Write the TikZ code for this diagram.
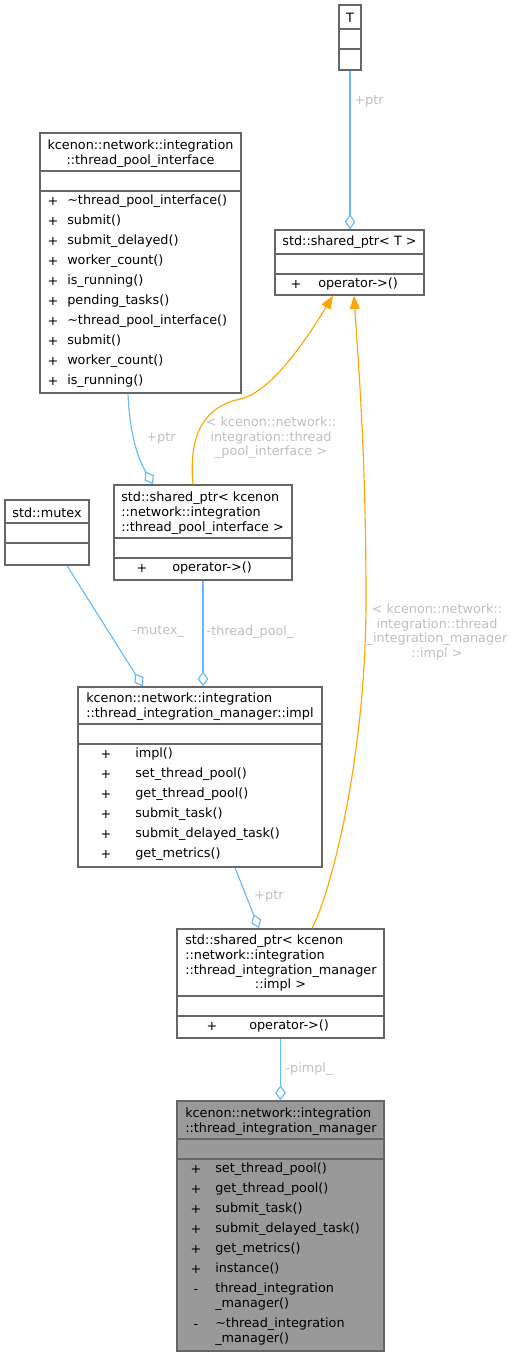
\documentclass[tikz,border=0pt]{standalone}
\usepackage{fontspec}
\setmainfont{DejaVu Sans}
\usetikzlibrary{arrows.meta,fit,calc}

\definecolor{useblue}{HTML}{63B8FF}
\definecolor{tmplorange}{HTML}{FFA500}
\definecolor{boxgray}{HTML}{666666}
\definecolor{labelgray}{HTML}{BFBFBF}
\definecolor{curfill}{HTML}{999999}

\begin{document}
\begin{tikzpicture}[x=0.75pt,y=-0.75pt,
        classbox/.style={draw=boxgray,line width=1pt,inner sep=0pt,fill=white},
        curbox/.style={classbox,fill=curfill},
        sepline/.style={draw=boxgray,line width=1pt},
        txt/.style={inner sep=0pt,font=\fontsize{9.6}{11.25}\selectfont},
        ttl/.style={txt,align=left,anchor=west},
        vis/.style={inner sep=0pt,align=center,font=\fontsize{9.6}{15}\selectfont},
        mth/.style={inner sep=0pt,align=left,anchor=west,font=\fontsize{9.6}{15}\selectfont},
        lbl/.style={inner sep=0pt,align=center,text=labelgray,font=\fontsize{9.6}{10.9}\selectfont},
        uses/.style={draw=useblue,line width=0.85pt,-{Diamond[open,length=11.25pt,width=8pt]}},
        tmpl/.style={draw=tmplorange,line width=0.85pt,-{Triangle[length=10pt,width=7.5pt]}}]
        \useasboundingbox (0,0) rectangle (515,1356);

        \node[classbox,fit={(339,5)(361,70)}] (T) {};
        \node[classbox,fit={(275,230)(424,295)}] (spT) {};
        \node[classbox,fit={(40,133)(241,393)}] (tpi) {};
        \node[classbox,fit={(5,500)(89,565)}] (mutex) {};
        \node[classbox,fit={(114,485)(292,580)}] (spTpi) {};
        \node[classbox,fit={(78,687)(322,867)}] (impl) {};
        \node[classbox,fit={(177,929)(384,1038)}] (spImpl) {};
        \node[curbox,fit={(177,1101)(384,1351)}] (mgr) {};

        \draw[sepline] (T.west |- 0,29) -- (T.east |- 0,29);
        \draw[sepline] (T.west |- 0,49) -- (T.east |- 0,49);
        \draw[sepline] (spT.west |- 0,254) -- (spT.east |- 0,254);
        \draw[sepline] (spT.west |- 0,274) -- (spT.east |- 0,274);
        \draw[sepline] (tpi.west |- 0,171) -- (tpi.east |- 0,171);
        \draw[sepline] (tpi.west |- 0,191) -- (tpi.east |- 0,191);
        \draw[sepline] (mutex.west |- 0,523) -- (mutex.east |- 0,523);
        \draw[sepline] (mutex.west |- 0,543) -- (mutex.east |- 0,543);
        \draw[sepline] (spTpi.west |- 0,538) -- (spTpi.east |- 0,538);
        \draw[sepline] (spTpi.west |- 0,558) -- (spTpi.east |- 0,558);
        \draw[sepline] (impl.west |- 0,724) -- (impl.east |- 0,724);
        \draw[sepline] (impl.west |- 0,744) -- (impl.east |- 0,744);
        \draw[sepline] (spImpl.west |- 0,996) -- (spImpl.east |- 0,996);
        \draw[sepline] (spImpl.west |- 0,1016) -- (spImpl.east |- 0,1016);
        \draw[sepline] (mgr.west |- 0,1139) -- (mgr.east |- 0,1139);
        \draw[sepline] (mgr.west |- 0,1159) -- (mgr.east |- 0,1159);

        \node[txt] (Tname) at (350,17.5) {T};

        \node[txt] (spTname) at (349.5,242.5) {std::shared\_ptr< T >};
        \node[vis] (spTvis) at (296,284) {+};
        \node[mth] (spTops) at (318,284) {operator->()};

        \node[txt,align=center] (tpiname) at (140.5,154) {kcenon::network::integration\\::thread\_pool\_interface};
        \node[vis] (tpivis) at (53,291.5) {+\\+\\+\\+\\+\\+\\+\\+\\+\\+};
        \node[mth] (tpiops) at (67,291.5) {\textasciitilde thread\_pool\_interface()\\submit()\\submit\_delayed()\\worker\_count()\\is\_running()\\pending\_tasks()\\\textasciitilde thread\_pool\_interface()\\submit()\\worker\_count()\\is\_running()};

        \node[txt] (mutexname) at (47,512.5) {std::mutex};

        \node[ttl] (spTpiname) at (121,513) {std::shared\_ptr< kcenon\\::network::integration\\::thread\_pool\_interface >};
        \node[vis] (spTpivis) at (142,568) {+};
        \node[mth] (spTpiops) at (172,568) {operator->()};

        \node[ttl] (implname) at (86,707) {kcenon::network::integration\\::thread\_integration\_manager::impl};
        \node[vis] (implvis) at (106,804.5) {+\\+\\+\\+\\+\\+};
        \node[mth] (implops) at (135,804.5) {impl()\\set\_thread\_pool()\\get\_thread\_pool()\\submit\_task()\\submit\_delayed\_task()\\get\_metrics()};

        \node[ttl] (spImplname) at (185,956.5) {std::shared\_ptr< kcenon\\::network::integration\\::thread\_integration\_manager};
        \node[txt] (spImplname2) at (280.5,985) {::impl >};
        \node[vis] (spImplvis) at (212,1026) {+};
        \node[mth] (spImplops) at (249,1026) {operator->()};

        \node[ttl] (mgrname) at (185,1121.5) {kcenon::network::integration\\::thread\_integration\_manager};
        \node[vis] (mgrvis) at (196,1247) {+\\+\\+\\+\\+\\+\\-\\[11.25pt]-};
        \node[mth] (mgrops) at (215,1254.5) {set\_thread\_pool()\\get\_thread\_pool()\\submit\_task()\\submit\_delayed\_task()\\get\_metrics()\\instance()\\thread\_integration\\[-3.75pt]\_manager()\\\textasciitilde thread\_integration\\[-3.75pt]\_manager()};

        \draw[uses] (T.south) -- (T.south |- spT.north);
        \draw[uses] ($(tpi.south)+(-12.5,0)$) .. controls (130,440) and (140,462) .. ($(spTpi.north)+(-50,0)$);
        \draw[tmpl] ($(spTpi.north)+(-10,0)$) .. controls (189,440) and (200,408) .. (240,399)
            .. controls (268,393) and (300,350) .. ($(spT.south)+(-16.5,0)$);
        \draw[uses] ($(mutex.south)+(20,0)$) -- ($(impl.north)+(-57,0)$);
        \draw[uses] (spTpi.south) -- (spTpi.south |- impl.north);
        \draw[uses] ($(impl.south)+(35,0)$) -- ($(spImpl.north)+(-21.5,0)$);
        \draw[tmpl] ($(spImpl.north)+(31.5,0)$) .. controls (330,895) and (366,760) .. (366,600)
            .. controls (366,450) and (358,360) .. ($(spT.south)+(4.5,0)$);
        \draw[uses] (spImpl.south) -- (mgr.north);

        \node[lbl] (ptrT) at (369,101) {+ptr};
        \node[lbl] (ptrTpi) at (161,438) {+ptr};
        \node[lbl] (argTpi) at (271,438) {< kcenon::network::\\integration::thread\\\_pool\_interface >};
        \node[lbl] (mutexlbl) at (158,632) {-mutex\_};
        \node[lbl] (poollbl) at (250,632) {-thread\_pool\_};
        \node[lbl] (argImpl) at (437,632) {< kcenon::network::\\integration::thread\\\_integration\_manager\\::impl >};
        \node[lbl] (ptrImpl) at (269,896) {+ptr};
        \node[lbl] (pimpllbl) at (309,1069) {-pimpl\_};
    \end{tikzpicture}
\end{document}
